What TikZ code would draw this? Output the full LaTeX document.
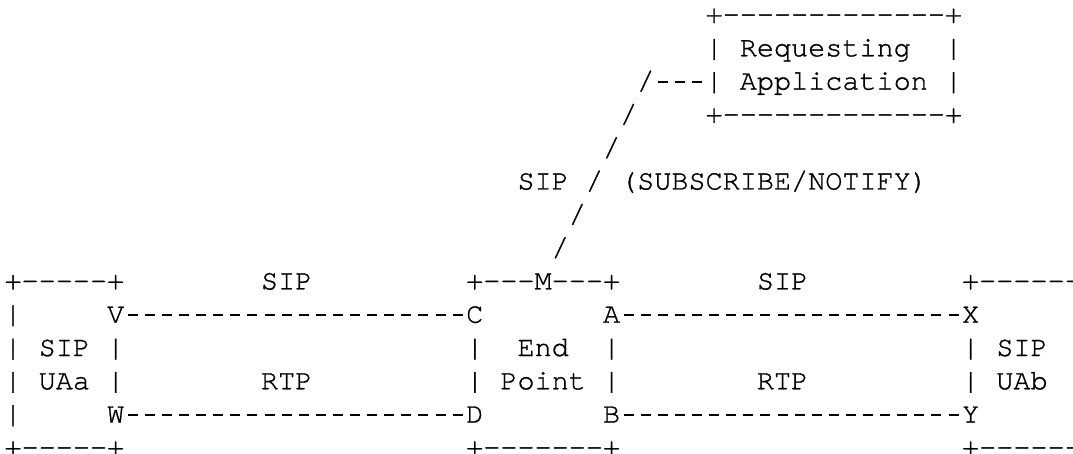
\documentclass[tikz,border=0pt]{standalone}
\usepackage{fontspec}
\usepackage{tikz}
\newfontfamily\monofont{TeX Gyre Cursor}[Ligatures=TeXOff, FakeBold=1.0]
\tikzstyle{every node}=[font={\monofont\fontsize{28.5pt}{33pt}\selectfont}, inner sep=0pt, outer sep=0pt, anchor=base west]
\tikzstyle{link}=[line width=1.3pt, dash pattern=on 10pt off 7.1pt, dash phase=13.55pt]
\newcommand{\lift}{7.7pt}
\newcommand{\dashrun}[1]{\foreach \k in {1,...,#1}{-}}

\begin{document}
\begin{tikzpicture}[x=17.1pt, y=-33.3pt]
  \path[use as bounding box] (-4.5pt,23pt) rectangle (1068.5pt,-431pt);
  \clip (-4.5pt,23pt) rectangle (1068.5pt,-431pt);
  % requesting application
  \node (apptop) at (41,0) {+\dashrun{13}+};
  \node (appl1) at (41,1) {|};
  \node (req) at (43,1) {Requesting};
  \node (appr1) at (55,1) {|};
  \node (sl2) at (37,2) {/};
  \node (appl2) at (41,2) {|};
  \node (app) at (43,2) {Application};
  \node (appr2) at (55,2) {|};
  \node (sl3) at (36,3) {/};
  \node (appbot) at (41,3) {+\dashrun{13}+};
  % subscribe path down to M
  \node (sl4) at (35,4) {/};
  \node (sipsub) at (30,5) {SIP};
  \node (sl5) at (34,5) {/};
  \node (subnot) at (36,5) {(SUBSCRIBE/NOTIFY)};
  \node (sl6) at (33,6) {/};
  \node (sl7) at (32,7) {/};
  % top edges
  \node (uaatop) at (0,8) {+\dashrun{5}+};
  \node (sipl) at (15,8) {SIP};
  \node (eptopl) at (27,8) {+\dashrun{3}};
  \node (M) at (31,8) {M};
  \node (eptopr) at (32,8) {\dashrun{3}+};
  \node (sipr) at (44,8) {SIP};
  \node (uabtop) at (56,8) {+\dashrun{6}};
  % side bars
  \foreach \r in {9,...,12}
    \node (uaaside\r) at (0,\r) {|};
  \foreach \c in {6,27,35,56}
    \foreach \r in {10,11}
      \node (bar\c-\r) at (\c,\r) {|};
  % media points
  \node (V) at (6,9) {V};
  \node (C) at (27,9) {C};
  \node (A) at (35,9) {A};
  \node (X) at (56,9) {X};
  \node (W) at (6,12) {W};
  \node (D) at (27,12) {D};
  \node (B) at (35,12) {B};
  \node (Y) at (56,12) {Y};
  % box labels
  \node (uaa1) at (2,10) {SIP};
  \node (uaa2) at (2,11) {UAa};
  \node (ep1) at (30,10) {End};
  \node (ep2) at (29,11) {Point};
  \node (uab1) at (58,10) {SIP};
  \node (uab2) at (58,11) {UAb};
  \node (rtpl) at (15,11) {RTP};
  \node (rtpr) at (44,11) {RTP};
  % bottom edges
  \node (uaabot) at (0,13) {+\dashrun{5}+};
  \node (epbot) at (27,13) {+\dashrun{7}+};
  \node (uabbot) at (56,13) {+\dashrun{6}};
  % links
  \draw[link] ([yshift=\lift]sl2.base east) -- ([yshift=\lift]appl2.base west);
  \draw[link] ([yshift=\lift]V.base east) -- ([yshift=\lift]C.base west);
  \draw[link] ([yshift=\lift]A.base east) -- ([yshift=\lift]X.base west);
  \draw[link] ([yshift=\lift]W.base east) -- ([yshift=\lift]D.base west);
  \draw[link] ([yshift=\lift]B.base east) -- ([yshift=\lift]Y.base west);
\end{tikzpicture}
\end{document}
